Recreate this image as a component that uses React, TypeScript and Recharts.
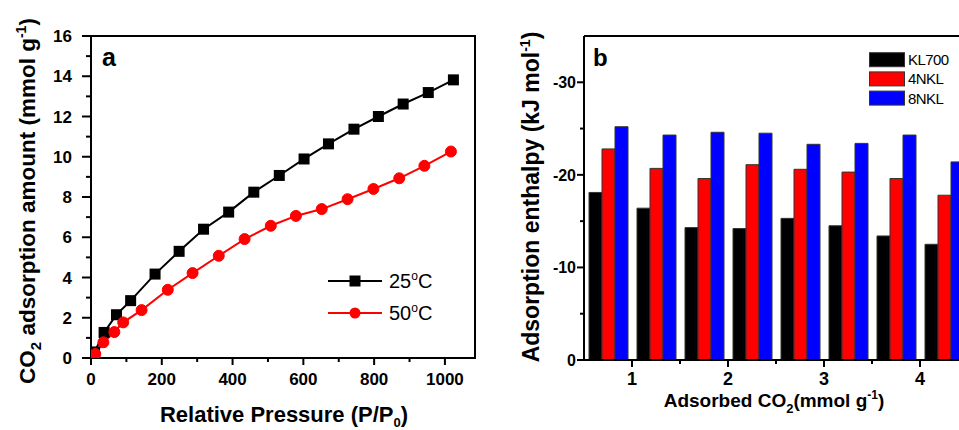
import React from 'react';
import {
  LineChart,
  Line,
  XAxis,
  YAxis,
  ReferenceArea,
  ReferenceLine,
  Label,
  Legend,
  BarChart,
  Bar,
} from 'recharts';

const FONT = '"Liberation Sans", Arial, Helvetica, sans-serif';

// ---------- Panel a: CO2 adsorption isotherms ----------
const pressure25 = [10, 37, 72, 112, 181, 249, 318, 389, 460, 532, 602, 671, 743, 812, 882, 953, 1024];
const uptake25 = [0.3, 1.27, 2.15, 2.85, 4.17, 5.3, 6.4, 7.25, 8.24, 9.07, 9.89, 10.64, 11.37, 12.0, 12.62, 13.19, 13.82];
const pressure50 = [12, 35, 66, 91, 143, 217, 287, 361, 434, 508, 579, 652, 725, 798, 871, 942, 1017];
const uptake50 = [0.2, 0.78, 1.29, 1.77, 2.38, 3.39, 4.22, 5.08, 5.91, 6.57, 7.06, 7.4, 7.89, 8.4, 8.93, 9.55, 10.26];
const xTicksA = [0, 100, 200, 300, 400, 500, 600, 700, 800, 900, 1000];
const yTicksA = [0, 1, 2, 3, 4, 5, 6, 7, 8, 9, 10, 11, 12, 13, 14, 15, 16];

// ---------- Panel b: adsorption enthalpy ----------
// each group occupies a half-unit band of the adsorbed-CO2 axis (0.5 .. 4.5)
const adsorbedCO2 = [0.75, 1.25, 1.75, 2.25, 2.75, 3.25, 3.75, 4.25];
const kl700 = [-18.1, -16.4, -14.3, -14.2, -15.3, -14.5, -13.4, -12.5];
const nkl4 = [-22.8, -20.7, -19.6, -21.1, -20.6, -20.3, -19.6, -17.8];
const nkl8 = [-25.2, -24.3, -24.6, -24.5, -23.3, -23.4, -24.3, -21.4];
const seriesOrderB = ['kl700', 'nkl4', 'nkl8'];
const yTicksB = [0, -5, -10, -15, -20, -25, -30];

const data25 = pressure25.map((x, i) => ({ x, y: uptake25[i] }));
const data50 = pressure50.map((x, i) => ({ x, y: uptake50[i] }));
const barData = adsorbedCO2.map((x, i) => ({ x, kl700: kl700[i], nkl4: nkl4[i], nkl8: nkl8[i] }));

// ---------- ticks ----------
const TickAY = (props: any) => {
  const { x, y, payload } = props;
  const v = payload.value as number;
  const major = v % 2 === 0;
  return (
    <g>
      <line x1={x} y1={y} x2={x - (major ? 9 : 5)} y2={y} stroke="#000" strokeWidth={2} />
      {major && (
        <text x={x - 19} y={y} dy={6} textAnchor="end" fontFamily={FONT} fontWeight="bold" fontSize={17} fill="#000">
          {v}
        </text>
      )}
    </g>
  );
};

const TickAX = (props: any) => {
  const { x, y, payload } = props;
  const v = payload.value as number;
  const major = v % 200 === 0;
  return (
    <g>
      <line x1={x} y1={y} x2={x} y2={y + (major ? 7 : 4)} stroke="#000" strokeWidth={2} />
      {major && (
        <text x={x} y={y + 27} textAnchor="middle" fontFamily={FONT} fontWeight="bold" fontSize={17} fill="#000">
          {v}
        </text>
      )}
    </g>
  );
};

const TickBY = (props: any) => {
  const { x, y, payload } = props;
  const v = payload.value as number;
  const major = v % 10 === 0;
  return (
    <g>
      <line x1={x} y1={y} x2={x - (major ? 7 : 4)} y2={y} stroke="#000" strokeWidth={2} />
      {major && (
        <text x={x - 8} y={y} dy={6} textAnchor="end" fontFamily={FONT} fontWeight="bold" fontSize={16} fill="#000">
          {v}
        </text>
      )}
    </g>
  );
};

// ticks are drawn at the right edge of each half-unit band (1, 1.5, 2, ...)
const TickBX = (props: any) => {
  const { x, y, payload } = props;
  const half = typeof payload.offset === 'number' && payload.offset > 0 ? payload.offset : 24;
  const v = (payload.value as number) + 0.25;
  const major = Math.abs(v - Math.round(v)) < 1e-6;
  const tx = x + half;
  return (
    <g>
      <line x1={tx} y1={y} x2={tx} y2={y + (major ? 7 : 4)} stroke="#000" strokeWidth={2} />
      {major && (
        <text x={tx} y={y + 25} textAnchor="middle" fontFamily={FONT} fontWeight="bold" fontSize={18} fill="#000">
          {Math.round(v)}
        </text>
      )}
    </g>
  );
};

// ---------- legends ----------
const LegendA = ({ payload }: any) => (
  <svg width={130} height={64} style={{ display: 'block', overflow: 'visible' }}>
    {(payload || []).map((item: any, i: number) => {
      const cy = 13 + i * 32;
      const color = item.color;
      const num = String(item.value).split('°')[0];
      return (
        <g key={i}>
          <line x1={8} x2={62} y1={cy} y2={cy} stroke={color} strokeWidth={2} />
          {i === 0 ? (
            <rect x={35 - 5.5} y={cy - 5.5} width={11} height={11} fill={color} />
          ) : (
            <circle cx={35} cy={cy} r={5.5} fill={color} />
          )}
          <text x={69} y={cy + 7} fontFamily={FONT} fontSize={20} fill="#000">
            {num}
            <tspan dy={-8} fontSize={12}>o</tspan>
            <tspan dy={8}>C</tspan>
          </text>
        </g>
      );
    })}
  </svg>
);

const LegendB = ({ payload }: any) => {
  const items = [...(payload || [])].sort(
    (a: any, b: any) => seriesOrderB.indexOf(a.dataKey) - seriesOrderB.indexOf(b.dataKey)
  );
  return (
    <svg width={90} height={60} style={{ display: 'block', overflow: 'visible' }}>
      {items.map((item: any, i: number) => {
        const ry = 2.7 + i * 19.2;
        return (
          <g key={i}>
            <rect x={0.5} y={ry} width={35} height={14} fill={item.color} stroke="#333" strokeWidth={1} />
            <text x={39} y={ry + 12.5} fontFamily={FONT} fontSize={15} letterSpacing={-0.6} fill="#000">
              {item.value}
            </text>
          </g>
        );
      })}
    </svg>
  );
};

// ---------- axis titles ----------
const TitleAY = (props: any) => {
  const vb = props.viewBox || { x: 31, y: 36, width: 60, height: 322 };
  const cx = vb.x + 4;
  const cy = vb.y + vb.height / 2 + 4;
  return (
    <text
      x={cx}
      y={cy}
      transform={`rotate(-90 ${cx} ${cy})`}
      textAnchor="middle"
      fontFamily={FONT}
      fontWeight="bold"
      fontSize={22.5}
      fill="#000"
    >
      CO
      <tspan dy={6} fontSize={15}>2</tspan>
      <tspan dy={-6}>{' adsorption amount (mmol g'}</tspan>
      <tspan dy={-9} fontSize={14}>-1</tspan>
      <tspan dy={9}>)</tspan>
    </text>
  );
};

const TitleAX = (props: any) => {
  const vb = props.viewBox || { x: 91, y: 358, width: 384, height: 30 };
  const cx = vb.x + vb.width / 2 + 1;
  const cy = vb.y + 64;
  return (
    <text x={cx} y={cy} textAnchor="middle" fontFamily={FONT} fontWeight="bold" fontSize={22} fill="#000">
      {'Relative Pressure (P/P'}
      <tspan dy={5} fontSize={13}>0</tspan>
      <tspan dy={-5}>)</tspan>
    </text>
  );
};

const TitleBY = (props: any) => {
  const vb = props.viewBox || { x: 44, y: 36, width: 60, height: 324 };
  const cx = vb.x + 15;
  const cy = vb.y + vb.height / 2 - 1;
  return (
    <text
      x={cx}
      y={cy}
      transform={`rotate(-90 ${cx} ${cy})`}
      textAnchor="middle"
      fontFamily={FONT}
      fontWeight="bold"
      fontSize={23}
      fill="#000"
    >
      {'Adsorption enthalpy (kJ mol'}
      <tspan dy={-9} fontSize={14}>-1</tspan>
      <tspan dy={9}>)</tspan>
    </text>
  );
};

const TitleBX = (props: any) => {
  const vb = props.viewBox || { x: 104, y: 360, width: 384, height: 30 };
  const cx = vb.x + vb.width / 2 - 2;
  const cy = vb.y + 47;
  return (
    <text x={cx} y={cy} textAnchor="middle" fontFamily={FONT} fontWeight="bold" fontSize={19} fill="#000">
      {'Adsorbed CO'}
      <tspan dy={6} fontSize={13}>2</tspan>
      <tspan dy={-6}>{'(mmol g'}</tspan>
      <tspan dy={-8} fontSize={12}>-1</tspan>
      <tspan dy={8}>)</tspan>
    </text>
  );
};

const PanelTag = ({ viewBox, text, dx, dy, size }: any) => {
  const vb = viewBox || { x: 0, y: 0 };
  return (
    <text x={vb.x + dx} y={vb.y + dy} fontFamily={FONT} fontWeight="bold" fontSize={size} fill="#000">
      {text}
    </text>
  );
};

const SquareDot = (props: any) => {
  const { cx, cy } = props;
  if (cx == null || cy == null) return null;
  return <rect x={cx - 5.5} y={cy - 5.5} width={11} height={11} fill="#000" />;
};

export default function App() {
  return (
    <div
      style={{
        position: 'absolute',
        left: 0,
        top: 0,
        width: 959,
        height: 430,
        overflow: 'hidden',
        background: '#fff',
      }}
    >
      <div style={{ position: 'absolute', left: 0, top: 0 }}>
        <LineChart width={480} height={430} margin={{ top: 36, right: 5, bottom: 42, left: 31 }}>
          <XAxis
            dataKey="x"
            type="number"
            domain={[0, 1085]}
            allowDataOverflow
            ticks={xTicksA}
            interval={0}
            tick={<TickAX />}
            tickLine={false}
            tickSize={0}
            tickMargin={0}
            axisLine={{ stroke: '#000', strokeWidth: 2 }}
            height={30}
          >
            <Label content={(p: any) => <TitleAX {...p} />} />
          </XAxis>
          <YAxis
            type="number"
            domain={[0, 16]}
            allowDataOverflow
            ticks={yTicksA}
            interval={0}
            tick={<TickAY />}
            tickLine={false}
            tickSize={0}
            tickMargin={0}
            axisLine={{ stroke: '#000', strokeWidth: 2 }}
            width={60}
          >
            <Label content={(p: any) => <TitleAY {...p} />} />
          </YAxis>
          <ReferenceArea x1={0} x2={1085} y1={0} y2={16} fill="none" stroke="#000" strokeWidth={2} ifOverflow="visible">
            <Label content={(p: any) => <PanelTag viewBox={p.viewBox} text="a" dx={11} dy={30} size={25} />} />
          </ReferenceArea>
          <Line
            data={data25}
            dataKey="y"
            name="25°C"
            type="linear"
            stroke="#000000"
            strokeWidth={2}
            dot={<SquareDot />}
            activeDot={false}
            isAnimationActive={false}
          />
          <Line
            data={data50}
            dataKey="y"
            name="50°C"
            type="linear"
            stroke="#ff0000"
            strokeWidth={2}
            dot={{ r: 5.5, fill: '#ff0000', stroke: '#ff0000', strokeWidth: 1 }}
            activeDot={false}
            isAnimationActive={false}
          />
          <Legend
            layout="vertical"
            align="center"
            verticalAlign="middle"
            content={(p: any) => <LegendA payload={p.payload} />}
            wrapperStyle={{ left: 320, top: 268, width: 130, height: 64 }}
          />
        </LineChart>
      </div>

      <div style={{ position: 'absolute', left: 480, top: 0 }}>
        <BarChart
          width={500}
          height={430}
          data={barData}
          margin={{ top: 36, right: 12, bottom: 40, left: 44 }}
          barGap={0}
        >
          <XAxis
            dataKey="x"
            type="category"
            interval={0}
            tick={<TickBX />}
            tickLine={false}
            tickSize={0}
            tickMargin={0}
            axisLine={{ stroke: '#000', strokeWidth: 2 }}
            height={30}
          >
            <Label content={(p: any) => <TitleBX {...p} />} />
          </XAxis>
          <YAxis
            type="number"
            domain={[-35, 0]}
            reversed
            allowDataOverflow
            ticks={yTicksB}
            interval={0}
            tick={<TickBY />}
            tickLine={false}
            tickSize={0}
            tickMargin={0}
            axisLine={{ stroke: '#000', strokeWidth: 2 }}
            width={60}
          >
            <Label content={(p: any) => <TitleBY {...p} />} />
          </YAxis>
          <Bar dataKey="kl700" name="KL700" fill="#000000" stroke="#333" strokeWidth={1} barSize={13} isAnimationActive={false} />
          <Bar dataKey="nkl4" name="4NKL" fill="#ff0000" stroke="#333" strokeWidth={1} barSize={13} isAnimationActive={false} />
          <Bar dataKey="nkl8" name="8NKL" fill="#0000ff" stroke="#333" strokeWidth={1} barSize={13} isAnimationActive={false} />
          <ReferenceLine y={-35} stroke="#000" strokeWidth={2}>
            <Label content={(p: any) => <PanelTag viewBox={p.viewBox} text="b" dx={9} dy={30} size={24} />} />
          </ReferenceLine>
          <Legend
            layout="vertical"
            align="center"
            verticalAlign="middle"
            content={(p: any) => <LegendB payload={p.payload} />}
            wrapperStyle={{ left: 389, top: 50, width: 90, height: 60 }}
          />
        </BarChart>
      </div>
    </div>
  );
}
